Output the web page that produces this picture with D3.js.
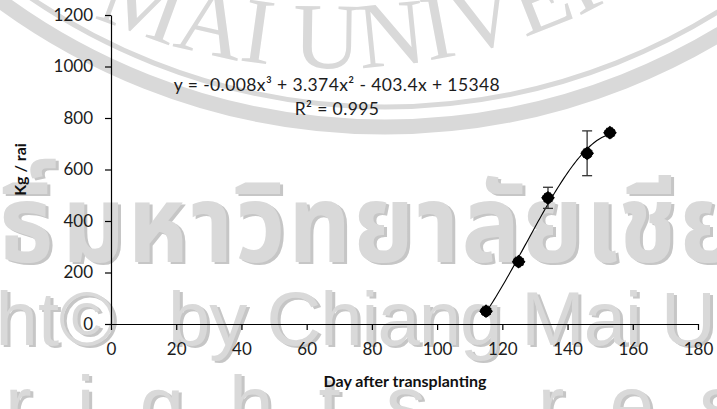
<!DOCTYPE html>
<html>
<head>
<meta charset="utf-8">
<script src="https://cdn.jsdelivr.net/npm/d3@7"></script>
<style>
  body { margin: 0; background: #fff; }
  svg { display: block; font-family: Lato, 'Open Sans', sans-serif; }
</style>
</head>
<body>
<div id="chart"></div>
<script>
// ---------- data ----------
const days = [115, 125, 134, 146, 153];
const yieldKg = [50, 242, 490, 663, 743];
const stdErr = [10, 12, 41, 87, 8];
const xTicks = [0, 20, 40, 60, 80, 100, 120, 140, 160, 180];
const yTicks = [0, 200, 400, 600, 800, 1000, 1200];
const equationText = 'y = -0.008x³ + 3.374x² - 403.4x + 15348';
const r2Text = 'R² = 0.995';

const width = 717, height = 409;
const margin = { top: 15, right: 19, bottom: 85, left: 111 };

const svg = d3.select('#chart').append('svg')
  .attr('width', width)
  .attr('height', height);

/* ---------- background watermark ---------- */
const wm = svg.append('g').attr('class', 'watermark');
const wmFill = '#d9d9d9', wmShadow = '#c6c6c6';

// seal rings
const ringC = { x: 385, y: -522 };
[{ r: 629, w: 5 }, { r: 649, w: 15 }].forEach(ring => {
  wm.append('circle')
    .attr('cx', ringC.x).attr('cy', ringC.y).attr('r', ring.r)
    .style('fill', 'none').style('stroke', wmFill).style('stroke-width', ring.w);
});

// seal lettering along an arc
const sealC = { x: 335, y: -520 }, sealR = 588, sealA = 1.3;
wm.append('defs').append('path')
  .attr('id', 'sealArc')
  .attr('d', `M${sealC.x - sealR * Math.sin(sealA)},${sealC.y + sealR * Math.cos(sealA)}` +
    ` A${sealR},${sealR} 0 0 0 ${sealC.x + sealR * Math.sin(sealA)},${sealC.y + sealR * Math.cos(sealA)}`);
wm.append('text')
  .style('font-family', "'Liberation Serif', serif")
  .style('font-size', '94px')
  .style('fill', wmFill)
  .append('textPath')
  .attr('href', '#sealArc')
  .attr('startOffset', sealR * sealA - 38 - 600)
  .text('CHIANG MAI UNIVERSITY');

function wmText(x, y, txt, anchor, size, family, weight, spacing, sx) {
  [[3, 2, wmShadow], [0, 0, wmFill]].forEach(([dx, dy, col]) => {
    wm.append('text')
      .attr('transform', `translate(${x + dx},${y + dy}) scale(${sx || 1},1)`)
      .style('text-anchor', anchor)
      .style('font-family', family)
      .style('font-size', size + 'px')
      .style('font-weight', weight)
      .style('letter-spacing', (spacing || 0) + 'px')
      .style('fill', col)
      .text(txt);
  });
}
const thaiFont = "'Noto Sans Thai', 'Noto Sans', 'DejaVu Sans', sans-serif";
wmText(56, 262, 'ลิขสิทธิ์', 'end', 108, thaiFont, 'bold', 3, 0.9);
wmText(62, 262, 'มหาวิทยาลัยเชียงใหม่', 'start', 108, thaiFont, 'bold', 3, 0.9);
const latFont = "'Liberation Sans Narrow', 'Liberation Sans', sans-serif";
wmText(115, 345, 'Copyright©', 'end', 76, latFont, 'normal', 0);
wmText(168, 345, 'by Chiang Mai University', 'start', 76, latFont, 'normal', -1);
wmText(-40, 432, 'All', 'end', 80, latFont, 'normal', 45);
wmText(5, 432, 'rights reserved', 'start', 80, latFont, 'normal', 45);

/* ---------- scales ---------- */
const x = d3.scaleLinear().domain([0, 180]).range([margin.left, width - margin.right]);
const y = d3.scaleLinear().domain([0, 1200]).range([height - margin.bottom, margin.top]);

/* ---------- axes ---------- */
const g = svg.append('g').attr('class', 'plot');

g.append('g')
  .attr('class', 'axis axis--x')
  .attr('transform', `translate(0,${y(0)})`)
  .call(d3.axisBottom(x).tickValues(xTicks).tickSize(6).tickPadding(13).tickSizeOuter(0));

g.append('g')
  .attr('class', 'axis axis--y')
  .attr('transform', `translate(${x(0)},0)`)
  .call(d3.axisLeft(y).tickValues(yTicks).tickFormat(d3.format('d'))
    .tickSize(6).tickPadding(12).tickSizeOuter(0));

g.selectAll('.axis path, .axis line').style('stroke', '#000').style('stroke-width', 1.2);
g.selectAll('.axis text')
  .style('font-family', 'Lato, sans-serif')
  .style('font-size', '17px')
  .style('fill', '#1c1c1c');

// axis titles
g.append('text')
  .attr('x', 405).attr('y', 387)
  .style('text-anchor', 'middle')
  .style('font-size', '16px')
  .style('font-weight', 'bold')
  .style('fill', '#111')
  .text('Day after transplanting');

g.append('text')
  .attr('transform', `translate(26,${(y(0) + y(1200)) / 2}) rotate(-90)`)
  .style('text-anchor', 'middle')
  .style('font-size', '16px')
  .style('font-weight', 'bold')
  .style('fill', '#111')
  .text('Kg / rai');

/* ---------- cubic least-squares trendline ---------- */
function polyFit(xs, ys, deg) {
  const n = deg + 1;
  const xm = d3.mean(xs);
  const A = [], b = [];
  for (let i = 0; i < n; i++) {
    A.push(new Array(n).fill(0));
    b.push(0);
  }
  xs.forEach((xv, k) => {
    const t = xv - xm;
    for (let i = 0; i < n; i++) {
      b[i] += ys[k] * Math.pow(t, i);
      for (let j = 0; j < n; j++) A[i][j] += Math.pow(t, i + j);
    }
  });
  // gaussian elimination
  for (let c = 0; c < n; c++) {
    let p = c;
    for (let r = c + 1; r < n; r++) if (Math.abs(A[r][c]) > Math.abs(A[p][c])) p = r;
    [A[c], A[p]] = [A[p], A[c]];
    [b[c], b[p]] = [b[p], b[c]];
    for (let r = c + 1; r < n; r++) {
      const f = A[r][c] / A[c][c];
      for (let j = c; j < n; j++) A[r][j] -= f * A[c][j];
      b[r] -= f * b[c];
    }
  }
  const coef = new Array(n).fill(0);
  for (let i = n - 1; i >= 0; i--) {
    let s = b[i];
    for (let j = i + 1; j < n; j++) s -= A[i][j] * coef[j];
    coef[i] = s / A[i][i];
  }
  return t => coef.reduce((acc, c, i) => acc + c * Math.pow(t - xm, i), 0);
}

const fit = polyFit(days, yieldKg, 3);
const fitX = d3.range(d3.min(days), d3.max(days) + 0.01, 0.5);

g.append('path')
  .datum(fitX)
  .attr('class', 'trend')
  .attr('d', d3.line().x(d => x(d)).y(d => y(fit(d))))
  .style('fill', 'none')
  .style('stroke', '#000')
  .style('stroke-width', 1.1);

/* ---------- error bars ---------- */
const pts = days.map((d, i) => ({ day: d, value: yieldKg[i], err: stdErr[i] }));
const eb = g.append('g').attr('class', 'error-bars');
const ebSel = eb.selectAll('g').data(pts).enter().append('g');
ebSel.append('line')
  .attr('x1', d => x(d.day)).attr('x2', d => x(d.day))
  .attr('y1', d => y(d.value - d.err)).attr('y2', d => y(d.value + d.err));
[-1, 1].forEach(s => {
  ebSel.append('line')
    .attr('x1', d => x(d.day) - 5).attr('x2', d => x(d.day) + 5)
    .attr('y1', d => y(d.value + s * d.err)).attr('y2', d => y(d.value + s * d.err));
});
eb.selectAll('line').style('stroke', '#333').style('stroke-width', 1.3);

/* ---------- markers ---------- */
const mk = g.append('g').attr('class', 'markers')
  .selectAll('g').data(pts).enter().append('g')
  .attr('transform', d => `translate(${x(d.day)},${y(d.value)})`);
mk.append('path')
  .attr('d', d3.symbol().type(d3.symbolSquare).size(95))
  .attr('transform', 'rotate(45)')
  .style('fill', '#000');
mk.append('circle')
  .attr('r', 5.5)
  .style('fill', '#000')
  .style('stroke', '#000')
  .style('stroke-width', 1)
  .style('stroke-dasharray', '1.5,1.5');

/* ---------- equation label ---------- */
g.append('text')
  .attr('x', 337).attr('y', 91)
  .style('text-anchor', 'middle')
  .style('font-size', '17.5px')
  .style('letter-spacing', '0.4px')
  .style('fill', '#1c1c1c')
  .text(equationText);
g.append('text')
  .attr('x', 337).attr('y', 115)
  .style('text-anchor', 'middle')
  .style('font-size', '17.5px')
  .style('letter-spacing', '0.4px')
  .style('fill', '#1c1c1c')
  .text(r2Text);
</script>
</body>
</html>
